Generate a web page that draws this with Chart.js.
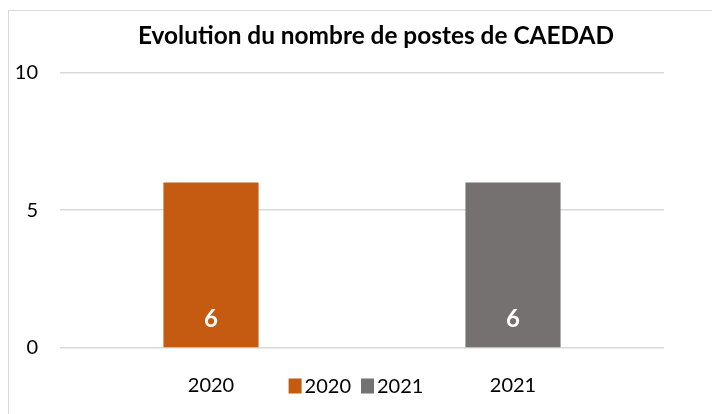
<!DOCTYPE html>
<html>
<head>
<meta charset="utf-8">
<script src="https://cdn.jsdelivr.net/npm/chart.js@4.4.1/dist/chart.umd.min.js"></script>
<style>
    html, body { margin: 0; padding: 0; background: #fff; }
    body { width: 712px; height: 414px; overflow: hidden; position: relative; }
    #frame {
        position: absolute; left: 8px; top: 10px; width: 720px; height: 420px;
        border: 1px solid #d9d9d9; box-sizing: border-box;
    }
    #wrap { position: absolute; left: 0; top: 0; width: 712px; height: 414px; }
</style>
</head>
<body>
<div id="frame"></div>
<div id="wrap"><canvas id="chart"></canvas></div>
<script>
'use strict';

// values
const categories = ['2020', '2021'];
const seriesNames = ['2020', '2021'];
const values2020 = [6, null];
const values2021 = [null, 6];
const seriesColors = ['#C55A11', '#767171'];
const yMin = 0;
const yMax = 10;
const yStep = 5;

const FONT = 'Lato, Calibri, sans-serif';

// white value labels inside the bars
const valueLabels = {
    id: 'valueLabels',
    afterDatasetsDraw(chart) {
        const ctx = chart.ctx;
        ctx.save();
        ctx.font = 'bold 24px ' + FONT;
        ctx.fillStyle = '#ffffff';
        ctx.textAlign = 'center';
        ctx.textBaseline = 'middle';
        chart.data.datasets.forEach((ds, i) => {
            const meta = chart.getDatasetMeta(i);
            meta.data.forEach((bar, j) => {
                const v = ds.data[j];
                if (v == null) return;
                ctx.fillText(String(v), bar.x, bar.base - 28);
            });
        });
        ctx.restore();
    }
};

// excel-style legend sitting on the same line as the category labels
const lineLegend = {
    id: 'lineLegend',
    afterDraw(chart) {
        const ctx = chart.ctx;
        const boxW = 13, boxH = 15, gap = 3, itemGap = 10;
        const cx = 356, cy = 386;
        ctx.save();
        ctx.font = '20px ' + FONT;
        const items = chart.data.datasets.map(ds => ({
            text: ds.label,
            color: ds.backgroundColor,
            w: boxW + gap + ctx.measureText(ds.label).width
        }));
        const total = items.reduce((s, it) => s + it.w, 0) + itemGap * (items.length - 1);
        let x = cx - total / 2;
        ctx.textBaseline = 'middle';
        ctx.textAlign = 'left';
        items.forEach(it => {
            ctx.fillStyle = it.color;
            ctx.fillRect(x, cy - boxH / 2, boxW, boxH);
            ctx.fillStyle = '#000';
            ctx.fillText(it.text, x + boxW + gap, cy + 1);
            x += it.w + itemGap;
        });
        ctx.restore();
    }
};

// the title in the reference sits right of the plot centre
const shiftTitle = {
    id: 'shiftTitle',
    afterLayout(chart) {
        if (chart.titleBlock) chart.titleBlock.left += 88;
    }
};

new Chart(document.getElementById('chart'), {
    type: 'bar',
    data: {
        labels: categories,
        datasets: [
            { label: seriesNames[0], data: values2020, backgroundColor: seriesColors[0] },
            { label: seriesNames[1], data: values2021, backgroundColor: seriesColors[1] }
        ]
    },
    options: {
        responsive: true,
        maintainAspectRatio: false,
        animation: false,
        skipNull: true,
        categoryPercentage: 0.315,
        barPercentage: 1.0,
        layout: { padding: { left: 0, right: 48, top: 0, bottom: 0 } },
        plugins: {
            legend: { display: false },
            tooltip: { enabled: false },
            title: {
                display: true,
                text: 'Evolution du nombre de postes de CAEDAD',
                color: '#000',
                font: { family: FONT, size: 24.4, weight: 'bold' },
                padding: { top: 22, bottom: 21 }
            }
        },
        scales: {
            x: {
                grid: { display: false },
                border: { display: false },
                ticks: { color: '#000', font: { family: FONT, size: 20 }, padding: 18 },
                afterFit: s => { s.height = 66; }
            },
            y: {
                min: yMin,
                max: yMax,
                grid: { color: '#d9d9d9', lineWidth: 1.5, drawTicks: false },
                border: { display: false },
                ticks: { stepSize: yStep, color: '#000', font: { family: FONT, size: 20 }, padding: 22 },
                afterFit: s => { s.width = 60; }
            }
        }
    },
    plugins: [valueLabels, lineLegend, shiftTitle]
});
</script>
</body>
</html>
